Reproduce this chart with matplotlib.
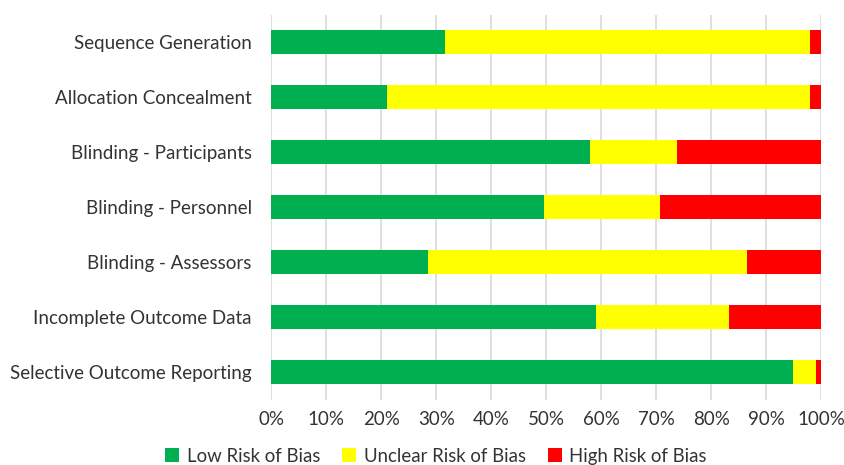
import matplotlib
matplotlib.use("Agg")
import matplotlib.pyplot as plt
from matplotlib.patches import Patch
from matplotlib.ticker import PercentFormatter

plt.rcParams['font.family'] = ['Lato', 'DejaVu Sans']

dominios = ['Sequence Generation', 'Allocation Concealment', 'Blinding - Participants',
            'Blinding - Personnel', 'Blinding - Assessors', 'Incomplete Outcome Data',
            'Selective Outcome Reporting']
baixo = [31.5, 21.1, 57.9, 49.5, 28.5, 59.1, 94.9]
incerto = [66.5, 76.9, 15.8, 21.1, 58.0, 24.1, 4.2]
alto = [2.0, 2.0, 26.3, 29.4, 13.5, 16.8, 0.9]

series = ['Low Risk of Bias', 'Unclear Risk of Bias', 'High Risk of Bias']
cores = ['#00B050', '#FFFF00', '#FF0000']

fig = plt.figure(figsize=(8.45, 4.65), dpi=100)
ax = fig.add_axes([0.321, 0.14, 0.651, 0.828])

y = list(range(len(dominios)))
esquerda = [0] * len(dominios)
for valores, cor in zip([baixo, incerto, alto], cores):
    ax.barh(y, valores, left=esquerda, height=0.44, color=cor, zorder=3)
    esquerda = [a + b for a, b in zip(esquerda, valores)]

ax.set_xlim(0, 100)
ax.set_ylim(len(dominios) - 0.5, -0.5)
ax.set_yticks(y)
ax.set_yticklabels(dominios)
ax.set_xticks(range(0, 101, 10))
ax.xaxis.set_major_formatter(PercentFormatter(decimals=0))
ax.grid(axis='x', color='#D9D9D9', linewidth=1.2, zorder=0)
for s in ax.spines.values():
    s.set_visible(False)
ax.tick_params(axis='both', length=0, labelsize=13.5, colors='#333333', pad=8)
ax.tick_params(axis='y', pad=14)

alcas = [Patch(facecolor=c, label=s) for s, c in zip(series, cores)]
fig.legend(handles=alcas, loc='lower center', bbox_to_anchor=(0.516, -0.035), ncol=3,
           frameon=False, fontsize=13.4, handlelength=0.75, handleheight=0.75,
           handletextpad=0.4, columnspacing=1.2, labelcolor='#333333')

plt.savefig('out.png', dpi=100)
